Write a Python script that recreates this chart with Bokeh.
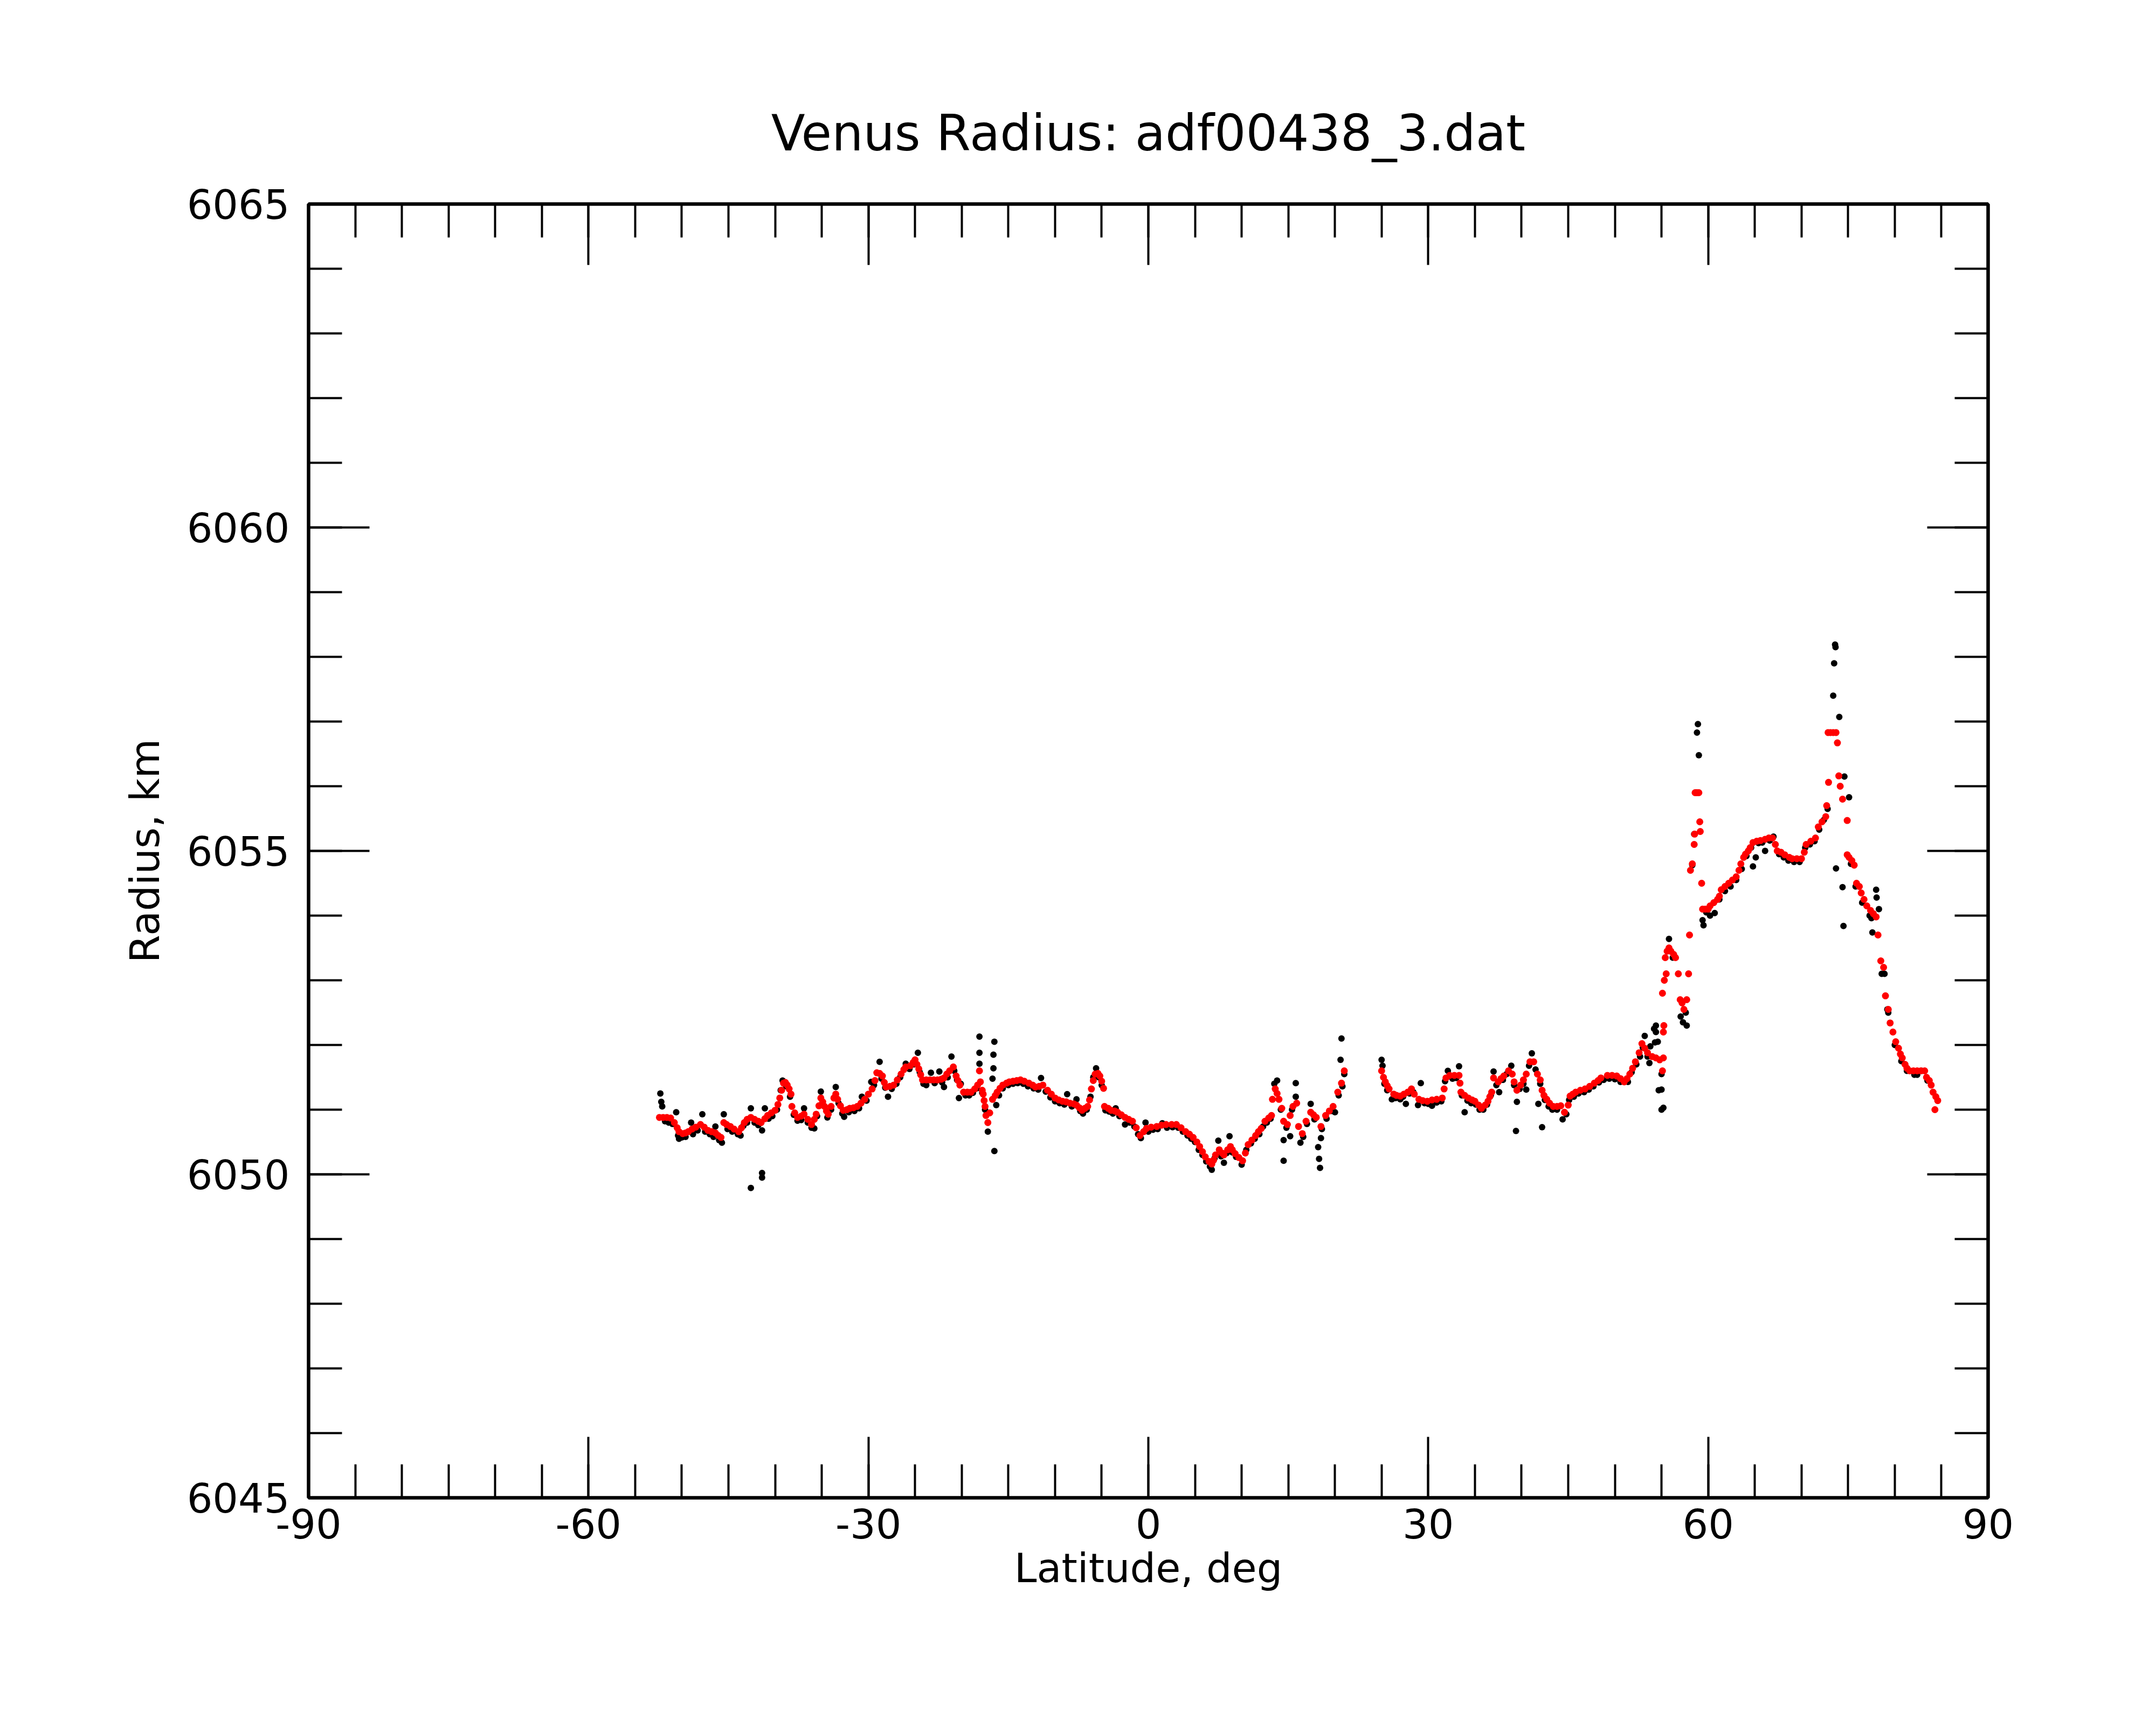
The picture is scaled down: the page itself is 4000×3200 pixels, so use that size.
from bokeh.plotting import figure
from bokeh.models import Range1d, FixedTicker, LinearAxis
from bokeh.embed import file_html
from bokeh.resources import INLINE

TITLE = "Venus Radius: adf00438_3.dat"
XLABEL = "Latitude, deg"
YLABEL = "Radius, km"
X_MAJOR = [-90, -60, -30, 0, 30, 60, 90]
Y_MAJOR = [6045, 6050, 6055, 6060, 6065]

# smoothed radius (red)
red_lat = [
-52.4,-52.0,-51.6,-51.2,-50.8,-50.5,-50.3,-49.9,-49.6,-49.3,-48.9,-48.5,-48.0,-47.6,-47.2,-46.8,-46.4,-46.1,-45.8,-45.5,
-45.2,-44.8,-44.4,-43.9,-43.6,-43.3,-43.0,-42.6,-42.2,-41.8,-41.5,-41.1,-40.8,-40.4,-40.0,-39.7,-39.5,-39.3,-39.1,-38.9,
-38.7,-38.5,-38.3,-38.2,-37.9,-37.6,-37.2,-36.9,-36.5,-36.1,-35.8,-35.6,-35.3,-35.1,-34.9,-34.7,-34.5,-34.3,-34.0,-33.7,
-33.5,-33.3,-33.0,-32.7,-32.3,-32.0,-31.6,-31.2,-30.8,-30.4,-30.0,-29.6,-29.3,-29.1,-28.8,-28.5,-28.3,-28.1,-27.7,-27.3,
-26.9,-26.5,-26.2,-26.0,-25.5,-25.2,-25.0,-24.8,-24.6,-24.4,-24.2,-23.8,-23.4,-23.0,-22.6,-22.2,-21.9,-21.6,-21.3,-20.9,
-20.6,-20.4,-20.2,-19.8,-19.4,-19.0,-18.6,-18.3,-18.1,-18.0,-17.8,-17.7,-17.6,-17.5,-17.4,-17.2,-17.0,-16.7,-16.4,-16.2,
-15.9,-15.6,-15.2,-14.9,-14.5,-14.1,-13.7,-13.3,-12.8,-12.4,-12.1,-11.7,-11.3,-10.8,-10.4,-10.0,-9.6,-9.2,-8.8,-8.4,
-8.0,-7.7,-7.4,-7.1,-6.8,-6.5,-6.3,-6.1,-5.9,-5.7,-5.4,-5.2,-5.0,-4.8,-4.7,-4.3,-4.0,-3.6,-3.3,-2.9,
-2.5,-2.1,-1.7,-1.3,-0.9,-0.5,-0.2,0.3,0.9,1.4,1.9,2.5,3.0,3.5,4.0,4.4,4.8,5.2,5.5,5.8,
6.1,6.5,6.8,7.0,7.2,7.6,7.9,8.1,8.5,8.8,9.0,9.3,9.7,10.1,10.4,10.7,11.1,11.5,11.8,12.1,
12.5,12.9,13.2,13.3,13.6,13.8,14.0,14.3,14.5,14.9,15.2,15.5,15.9,16.1,16.5,16.9,17.4,17.7,18.0,18.5,
19.0,19.4,19.8,20.3,20.7,21.0,
25.0,25.2,25.4,25.6,25.8,26.3,26.6,27.0,27.4,27.8,28.2,28.5,29.0,29.4,29.9,30.4,30.9,31.5,31.7,31.9,
32.3,32.8,33.3,33.4,33.5,33.9,34.3,34.7,35.0,35.4,35.7,36.1,36.4,36.6,36.8,37.0,37.5,37.8,38.1,38.6,
39.0,39.2,39.5,39.9,40.2,40.5,40.9,41.3,41.7,42.0,42.2,42.4,42.7,43.0,43.4,43.8,44.2,44.6,45.0,45.2,
45.5,45.8,46.3,46.8,47.3,47.8,48.2,48.5,49.2,49.7,50.2,50.6,51.0,51.3,51.6,51.9,52.2,52.6,52.9,53.2,
53.5,54.0,54.4,54.8,55.1,55.2,55.2,55.25,55.1,55.3,55.5,55.4,55.6,55.8,56.0,56.3,56.5,56.8,57.0,57.2,
57.4,57.7,57.9,58.0,58.1,58.3,58.5,58.55,58.6,58.8,59.0,59.1,59.15,59.3,59.4,59.7,60.0,60.2,60.6,61.0,
61.2,61.4,61.8,62.2,62.6,63.0,63.3,63.5,63.8,64.0,64.3,64.5,64.8,65.2,65.6,66.1,66.5,66.9,67.2,67.4,
67.8,68.2,68.7,69.0,69.5,70.0,70.3,70.5,71.0,71.5,71.8,72.2,72.6,72.7,72.9,72.85,73.1,73.4,73.7,73.85,
74.0,74.15,74.4,74.9,74.9,75.1,75.4,75.65,75.9,76.2,76.4,76.7,77.0,77.4,77.7,78.0,78.2,78.5,78.8,79.0,
79.3,79.5,79.8,80.1,80.4,80.6,80.8,81.1,81.3,81.6,82.0,82.4,82.8,83.2,83.4,83.7,83.9,84.1,84.4,84.6,
84.3]
red_rad = [
6050.88,6050.88,6050.88,6050.87,6050.80,6050.72,6050.66,6050.63,6050.64,6050.66,6050.70,6050.73,6050.77,6050.73,6050.68,6050.66,6050.64,6050.60,6050.57,6050.80,
6050.77,6050.74,6050.70,6050.66,6050.72,6050.80,6050.85,6050.88,6050.85,6050.82,6050.80,6050.86,6050.91,6050.95,6050.99,6051.08,6051.18,6051.30,6051.41,6051.42,
6051.38,6051.32,6051.24,6051.05,6050.95,6050.88,6050.90,6050.93,6050.85,6050.77,6050.85,6050.93,6051.06,6051.18,6051.12,6051.05,6050.98,6050.93,6051.05,6051.18,
6051.24,6051.16,6051.06,6050.99,6051.00,6051.02,6051.03,6051.05,6051.10,6051.16,6051.24,6051.32,6051.45,6051.57,6051.56,6051.52,6051.42,6051.35,6051.36,6051.38,
6051.46,6051.55,6051.62,6051.66,6051.68,6051.73,6051.77,6051.70,6051.63,6051.54,6051.46,6051.46,6051.46,6051.46,6051.46,6051.47,6051.49,6051.55,6051.60,6051.66,
6051.52,6051.45,6051.38,6051.27,6051.27,6051.27,6051.32,6051.38,6051.60,6051.43,6051.30,6051.24,6051.14,6051.05,6050.91,6050.80,6050.95,6051.16,6051.22,6051.27,
6051.33,6051.38,6051.41,6051.43,6051.44,6051.45,6051.46,6051.44,6051.41,6051.38,6051.35,6051.36,6051.38,6051.30,6051.24,6051.18,6051.15,6051.13,6051.12,6051.10,
6051.09,6051.07,6051.03,6050.99,6051.02,6051.05,6051.15,6051.32,6051.45,6051.55,6051.56,6051.52,6051.44,6051.33,6051.05,6051.02,6050.99,6050.98,6050.96,6050.92,
6050.88,6050.85,6050.82,6050.72,6050.60,6050.66,6050.71,6050.73,6050.74,6050.76,6050.77,6050.77,6050.77,6050.72,6050.66,6050.62,6050.57,6050.50,6050.43,6050.35,
6050.27,6050.20,6050.16,6050.22,6050.30,6050.38,6050.33,6050.30,6050.38,6050.43,6050.38,6050.32,6050.26,6050.21,6050.33,6050.46,6050.53,6050.60,6050.66,6050.71,
6050.82,6050.87,6050.91,6051.16,6051.32,6051.25,6051.16,6051.02,6050.82,6050.77,6050.91,6051.05,6051.10,6050.74,6050.63,6050.82,6050.96,6050.92,6050.88,6050.74,
6050.91,6050.98,6051.05,6051.27,6051.41,6051.60,
6051.60,6051.50,6051.43,6051.37,6051.32,6051.24,6051.22,6051.21,6051.24,6051.27,6051.32,6051.24,6051.16,6051.14,6051.13,6051.15,6051.16,6051.18,6051.32,6051.49,
6051.53,6051.53,6051.53,6051.41,6051.27,6051.22,6051.18,6051.15,6051.13,6051.07,6051.02,6051.07,6051.13,6051.20,6051.27,6051.49,6051.43,6051.48,6051.52,6051.60,
6051.55,6051.43,6051.30,6051.38,6051.46,6051.55,6051.74,6051.74,6051.55,6051.46,6051.30,6051.22,6051.16,6051.10,6051.05,6051.05,6051.06,6050.96,6051.07,6051.21,
6051.24,6051.27,6051.30,6051.32,6051.36,6051.41,6051.45,6051.49,6051.53,6051.53,6051.52,6051.48,6051.43,6051.48,6051.55,6051.64,6051.74,6051.88,6052.02,6051.95,
6051.88,6051.82,6051.80,6051.77,6051.60,6051.80,6052.20,6052.30,6052.80,6053.00,6053.10,6053.35,6053.45,6053.50,6053.45,6053.40,6053.35,6053.10,6052.70,6052.65,
6052.55,6052.70,6053.10,6053.70,6054.70,6054.80,6055.10,6055.26,6055.90,6055.90,6055.90,6055.45,6055.30,6054.50,6054.10,6054.10,6054.10,6054.15,6054.20,6054.25,
6054.30,6054.40,6054.45,6054.50,6054.55,6054.60,6054.70,6054.80,6054.90,6054.95,6055.00,6055.05,6055.13,6055.15,6055.16,6055.18,6055.20,6055.20,6055.10,6055.00,
6054.98,6054.94,6054.90,6054.88,6054.88,6054.88,6054.98,6055.10,6055.15,6055.20,6055.37,6055.45,6055.53,6055.70,6056.06,6056.83,6056.83,6056.83,6056.83,6056.67,
6056.16,6056.00,6055.80,6055.47,6054.94,6054.90,6054.85,6054.78,6054.50,6054.45,6054.35,6054.25,6054.15,6054.08,6054.03,6053.98,6053.70,6053.30,6053.20,6052.76,
6052.55,6052.34,6052.20,6052.05,6051.95,6051.86,6051.80,6051.70,6051.64,6051.60,6051.60,6051.60,6051.60,6051.60,6051.50,6051.45,6051.38,6051.27,6051.20,6051.14,
6051.00]

# raw radius (black)
blk_lat = [
-52.3,-52.2,-52.1,-51.8,-51.4,-51.0,-50.6,-50.4,-50.3,-50.0,-49.6,-49.0,-48.8,-48.3,-47.8,-47.5,-47.0,-46.6,-46.4,-46.0,
-45.7,-45.5,-45.1,-44.6,-44.0,-43.7,-43.4,-43.0,-42.6,-42.6,-42.2,-41.8,-41.4,-41.4,-41.4,-41.1,-40.7,-40.3,-39.8,-39.4,
-39.2,-38.8,-38.4,-38.0,-37.6,-37.2,-36.9,-36.5,-36.1,-35.8,-35.5,-35.1,-34.8,-34.4,-34.0,-33.5,-33.2,-32.8,-32.6,-32.1,
-31.5,-31.0,-30.7,-30.2,-29.7,-29.4,-28.8,-28.6,-28.2,-27.9,-27.5,-27.0,-26.6,-26.0,-25.6,-25.1,-24.7,-24.5,-24.1,-23.8,
-23.3,-22.9,-22.4,-22.1,-21.9,-21.5,-21.1,-20.8,-20.5,-20.3,-20.1,-19.6,-19.2,-18.8,-18.4,-18.1,-18.1,-18.1,-17.8,-17.5,
-17.2,-16.5,-16.6,-16.6,-16.7,-16.5,-16.3,-16.0,-15.6,-15.0,-14.5,-14.0,-13.4,-12.9,-12.3,-11.8,-11.5,-11.0,-10.5,-10.0,
-9.5,-9.0,-8.7,-8.2,-7.7,-7.3,-7.0,-6.6,-6.2,-5.9,-5.6,-5.3,-5.0,-4.6,-4.2,-3.8,-3.5,-3.1,-2.5,-2.0,
-1.5,-1.1,-0.8,-0.3,0.0,0.5,1.0,1.5,2.0,2.6,3.2,3.7,4.2,4.6,5.0,5.4,5.8,6.2,6.6,6.8,
7.1,7.5,7.8,8.1,8.4,8.7,9.0,9.4,10.0,10.5,11.0,11.4,11.9,12.3,12.7,13.1,13.5,13.8,14.2,14.5,
14.5,14.8,15.2,15.4,15.8,15.8,16.3,16.6,17.0,17.4,17.8,18.2,18.3,18.4,18.5,18.6,19.1,19.6,20.0,20.4,
20.6,20.7,20.8,21.0,
25.0,25.1,25.3,25.6,26.1,26.5,27.0,27.3,27.6,28.0,28.4,28.9,29.2,29.6,30.0,30.4,30.9,31.4,31.8,32.1,
32.6,33.0,33.3,33.6,33.9,34.2,34.6,35.1,35.5,35.9,36.3,36.7,37.0,37.3,37.6,38.0,38.4,38.9,39.2,39.4,
39.5,39.8,40.2,40.5,40.8,41.1,41.5,41.8,42.0,42.2,42.5,42.9,43.3,43.8,44.4,44.8,45.1,45.6,46.1,46.7,
47.2,47.7,48.3,48.8,49.4,50.0,50.6,51.0,51.4,51.8,52.3,52.7,53.0,53.2,53.5,53.7,53.8,54.2,54.4,54.4,
54.3,54.6,54.7,55.0,55.0,55.0,55.2,55.8,55.9,56.2,57.05,57.3,57.6,57.7,58.5,58.3,58.7,58.8,58.9,59.0,
59.4,59.5,59.8,60.2,60.7,61.2,61.8,62.4,63.0,63.6,64.1,64.6,64.8,65.1,65.4,65.8,66.1,66.6,67.0,67.6,
68.1,68.6,69.2,69.8,70.4,70.9,71.4,71.9,72.4,72.8,73.4,73.5,73.6,73.65,73.7,74.05,74.4,74.5,74.6,75.1,
75.3,75.8,76.5,77.3,77.5,77.6,78.0,78.05,78.3,78.6,78.9,79.2,79.3,80.0,80.7,81.3,82.1,82.4,82.9,83.5]
blk_rad = [
6051.25,6051.12,6051.05,6050.82,6050.80,6050.78,6050.96,6050.60,6050.55,6050.57,6050.58,6050.80,6050.62,6050.68,6050.93,6050.66,6050.62,6050.58,6050.74,6050.53,
6050.49,6050.93,6050.70,6050.66,6050.62,6050.60,6050.75,6050.80,6051.02,6049.79,6050.80,6050.76,6050.02,6049.95,6050.68,6051.02,6050.86,6050.90,6051.00,6051.30,
6051.45,6051.36,6051.20,6050.92,6050.83,6050.84,6051.02,6050.80,6050.72,6050.71,6050.90,6051.28,6051.06,6050.88,6051.00,6051.35,6051.10,6050.94,6050.89,6050.96,
6050.98,6051.02,6051.20,6051.14,6051.43,6051.38,6051.74,6051.48,6051.34,6051.20,6051.32,6051.40,6051.50,6051.71,6051.63,6051.70,6051.88,6051.58,6051.40,6051.38,
6051.57,6051.41,6051.59,6051.42,6051.35,6051.50,6051.82,6051.60,6051.46,6051.18,6051.40,6051.22,6051.22,6051.26,6051.33,6052.13,6051.88,6051.71,6051.26,6051.00,
6050.66,6052.05,6051.85,6051.64,6051.48,6050.36,6051.07,6051.22,6051.33,6051.38,6051.40,6051.41,6051.40,6051.36,6051.33,6051.31,6051.49,6051.28,6051.19,6051.13,
6051.10,6051.08,6051.24,6051.05,6051.16,6050.98,6050.94,6051.00,6051.20,6051.50,6051.64,6051.50,6051.38,6050.99,6050.97,6050.94,6051.02,6050.90,6050.77,6050.80,
6050.74,6050.62,6050.56,6050.80,6050.66,6050.69,6050.70,6050.79,6050.72,6050.73,6050.72,6050.66,6050.60,6050.55,6050.50,6050.38,6050.30,6050.20,6050.12,6050.07,
6050.25,6050.52,6050.28,6050.18,6050.33,6050.59,6050.34,6050.27,6050.15,6050.38,6050.48,6050.55,6050.62,6050.74,6050.80,6050.86,6051.40,6051.45,6051.00,6050.53,
6050.21,6050.72,6050.59,6051.00,6051.41,6051.20,6050.49,6050.58,6050.78,6051.09,6050.85,6050.42,6050.24,6050.10,6050.56,6050.70,6050.86,6050.98,6050.96,6051.22,
6051.77,6052.10,6051.36,6051.55,
6051.77,6051.68,6051.40,6051.30,6051.16,6051.18,6051.16,6051.20,6051.09,6051.25,6051.27,6051.07,6051.41,6051.10,6051.09,6051.06,6051.11,6051.13,6051.44,6051.60,
6051.48,6051.49,6051.67,6051.22,6050.96,6051.14,6051.10,6051.08,6051.00,6051.00,6051.08,6051.22,6051.59,6051.38,6051.27,6051.46,6051.55,6051.68,6051.38,6050.67,
6051.12,6051.32,6051.40,6051.31,6051.68,6051.87,6051.62,6051.09,6051.40,6050.73,6051.15,6051.05,6051.00,6051.00,6050.85,6050.93,6051.15,6051.20,6051.25,6051.27,
6051.31,6051.36,6051.42,6051.46,6051.48,6051.47,6051.43,6051.43,6051.43,6051.58,6051.70,6051.82,6051.96,6052.14,6051.82,6051.72,6051.98,6052.25,6052.30,6052.20,
6052.04,6052.05,6051.30,6051.55,6051.31,6051.00,6051.03,6053.64,6053.45,6053.35,6052.44,6052.35,6052.50,6052.30,6055.26,6054.78,6055.90,6056.83,6056.96,6056.48,
6053.93,6053.85,6054.05,6054.00,6054.04,6054.25,6054.38,6054.45,6054.55,6054.72,6054.92,6055.05,6054.76,6054.90,6055.12,6055.13,6055.00,6055.16,6055.22,6054.95,
6054.90,6054.85,6054.83,6054.83,6055.05,6055.10,6055.15,6055.33,6055.48,6055.65,6057.40,6057.90,6058.19,6058.15,6054.73,6057.07,6054.44,6053.84,6056.15,6055.83,
6054.80,6054.45,6054.20,6054.00,6053.96,6053.74,6054.40,6054.28,6054.10,6053.10,6053.10,6052.55,6052.50,6052.00,6051.75,6051.60,6051.54,6051.54,6051.60,6051.45]

FONT = "DejaVu Sans"

p = figure(width=3984, height=3184, output_backend="svg", toolbar_location=None,
           x_range=Range1d(-90, 90), y_range=Range1d(6045, 6065),
           min_border_left=572, min_border_right=296, min_border_top=378, min_border_bottom=406,
           title=TITLE, x_axis_label=XLABEL, y_axis_label=YLABEL)
p.background_fill_color = "white"
p.border_fill_color = "white"
p.outline_line_color = "black"
p.outline_line_width = 6
p.grid.visible = False

p.title.align = "center"
p.title.text_font = FONT
p.title.text_font_size = "92px"
p.title.text_font_style = "normal"
p.title.text_color = "black"
p.title.standoff = 156

xt = FixedTicker(ticks=X_MAJOR, minor_ticks=list(range(-90, 91, 5)))
yt = FixedTicker(ticks=Y_MAJOR, minor_ticks=list(range(6045, 6066)))

def style(ax, standoff):
    ax.axis_line_color = "black"
    ax.axis_line_width = 6
    ax.major_tick_line_color = "black"
    ax.major_tick_line_width = 4
    ax.minor_tick_line_color = "black"
    ax.minor_tick_line_width = 4
    ax.major_tick_in = 113
    ax.major_tick_out = 0
    ax.minor_tick_in = 62
    ax.minor_tick_out = 0
    ax.major_label_standoff = standoff
    ax.major_label_text_font = FONT
    ax.major_label_text_font_size = "75px"
    ax.major_label_text_color = "black"
    ax.axis_label_text_font = FONT
    ax.axis_label_text_font_size = "75px"
    ax.axis_label_text_font_style = "normal"
    ax.axis_label_text_color = "black"

p.xaxis.ticker = xt
p.yaxis.ticker = yt
style(p.xaxis[0], 20)
style(p.yaxis[0], 35)
p.xaxis[0].axis_label_standoff = 8
p.yaxis[0].axis_label_standoff = 31
p.xaxis[0].major_label_overrides = {v: str(v) for v in X_MAJOR}
p.yaxis[0].major_label_overrides = {v: str(v) for v in Y_MAJOR}

ax_top = LinearAxis(ticker=xt)
style(ax_top, 0)
ax_top.major_label_text_font_size = "0px"
ax_top.major_label_text_color = None
p.add_layout(ax_top, "above")
ax_right = LinearAxis(ticker=yt)
style(ax_right, 0)
ax_right.major_label_text_font_size = "0px"
ax_right.major_label_text_color = None
p.add_layout(ax_right, "right")

p.scatter(blk_lat, blk_rad, marker="circle", size=12, fill_color="black", line_color=None)
p.scatter(red_lat, red_rad, marker="circle", size=13, fill_color="#ff0000", line_color=None)

open("out.html", "w").write(file_html(p, INLINE))
